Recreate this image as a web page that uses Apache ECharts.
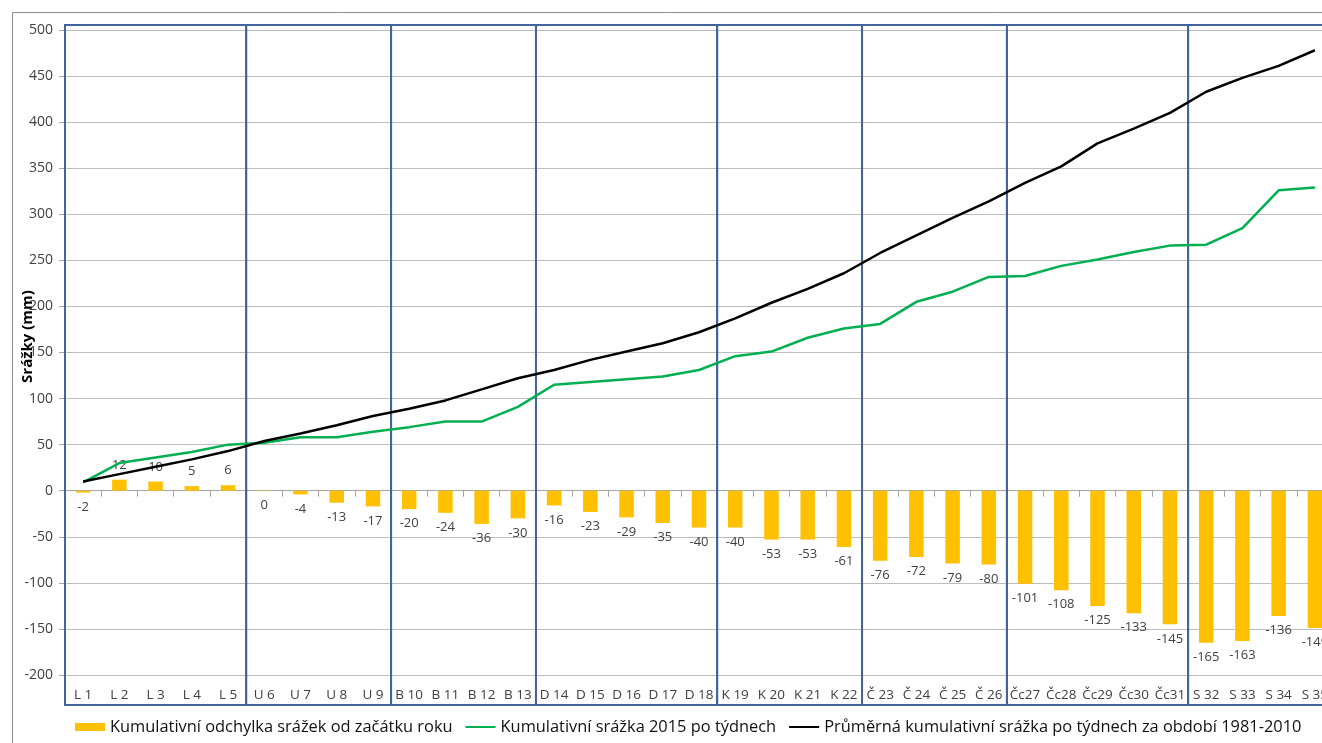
<!DOCTYPE html>
<html>
<head>
<meta charset="utf-8">
<script src="https://cdn.jsdelivr.net/npm/echarts@6/dist/echarts.min.js"></script>
<style>
html,body{margin:0;padding:0;background:#fff;}
#main{width:1322px;height:743px;}
</style>
</head>
<body>
<div id="main"></div>
<script>
const categories = ['L 1','L 2','L 3','L 4','L 5','U 6','U 7','U 8','U 9','B 10','B 11','B 12','B 13','D 14','D 15','D 16','D 17','D 18','K 19','K 20','K 21','K 22','Č 23','Č 24','Č 25','Č 26','Čc27','Čc28','Čc29','Čc30','Čc31','S 32','S 33','S 34','S 35'];
const deviation = [-2,12,10,5,6,-0.4,-4,-13,-17,-20,-24,-36,-30,-16,-23,-29,-35,-40,-40,-53,-53,-61,-76,-72,-79,-80,-101,-108,-125,-133,-145,-165,-163,-136,-149];
const precip2015 = [9,30,36,42,50,52,58,58,64,69,75,75,91,115,118,121,124,131,146,151,166,176,181,205,216,232,233,244,251,259,266,267,285,326,329];
const normal8110 = [10,18,26,34,43,54,62,71,81,89,98,110,122,131,142,151,160,172,187,204,219,236,258,277,296,314,334,352,377,393,410,433,448,461,478];
const monthGroups = [[0,4],[5,8],[9,12],[13,17],[18,21],[22,25],[26,30],[31,34]];
const seriesNames = ['Kumulativní odchylka srážek od začátku roku','Kumulativní srážka 2015 po týdnech','Průměrná kumulativní srážka po týdnech za období 1981-2010'];
const yTicks = {min:-200, max:500, interval:50};

const FONT = 'Open Sans';
const chart = echarts.init(document.getElementById('main'), null, {renderer:'canvas'});
const option = {
  animation:false,
  backgroundColor:'#fff',
  textStyle:{fontFamily:FONT},
  grid:{left:65, right:-11, top:30, bottom:68, containLabel:false, outerBoundsMode:'none'},
  legend:{
    left:70, top:714, itemWidth:30, itemHeight:8, itemGap:12,
    textStyle:{fontFamily:FONT, fontSize:16.4, color:'#111'},
    data:[
      {name:seriesNames[0], icon:'rect'},
      {name:seriesNames[1], itemStyle:{opacity:0}},
      {name:seriesNames[2], itemStyle:{opacity:0}}
    ]
  },
  xAxis:[{
    type:'category', data:categories, position:'bottom',
    axisLine:{show:false, onZero:false}, axisTick:{show:false},
    axisLabel:{fontFamily:FONT, fontSize:13.5, color:'#404040', margin:13, interval:0},
    splitLine:{show:false}
  },{
    type:'category', data:categories, position:'top',
    axisLine:{show:true, onZero:true, lineStyle:{color:'#a6a6a6', width:1}},
    axisTick:{show:true, inside:true, length:6, lineStyle:{color:'#a6a6a6'}},
    axisLabel:{show:false}, splitLine:{show:false}
  }],
  yAxis:{
    type:'value', min:yTicks.min, max:yTicks.max, interval:yTicks.interval,
    name:'Srážky (mm)', nameLocation:'middle', nameRotate:90, nameGap:30, nameMoveOverlap:false,
    nameTextStyle:{fontFamily:FONT, fontSize:15, fontWeight:'bold', color:'#000', padding:[0,0,0,32]},
    axisLine:{show:true, lineStyle:{color:'#a6a6a6'}},
    axisTick:{show:true, length:6, lineStyle:{color:'#a6a6a6'}},
    axisLabel:{fontFamily:FONT, fontSize:14, color:'#404040', margin:12},
    splitLine:{show:true, lineStyle:{color:'#bdbdbd', width:1}}
  },
  series:[{
    name:seriesNames[0], type:'bar', data:deviation, barWidth:14.5,
    itemStyle:{color:'#ffc000'},
    label:{show:true, position:'outside', distance:8, fontFamily:FONT, fontSize:13, color:'#404040',
      formatter:p=>String(Math.round(p.value)).replace('-0','0')},
    z:3
  },{
    name:seriesNames[1], type:'line', data:precip2015, symbol:'none', showSymbol:false,
    lineStyle:{color:'#00b050', width:2.5}, itemStyle:{color:'#00b050'}, z:4
  },{
    name:seriesNames[2], type:'line', data:normal8110, symbol:'none', showSymbol:false,
    lineStyle:{color:'#000000', width:2.5}, itemStyle:{color:'#000000'}, z:5
  }]
};
chart.setOption(option);

// month boxes positioned through the library's own scales
const p0 = chart.convertToPixel({xAxisIndex:0}, 0);
const p1 = chart.convertToPixel({xAxisIndex:0}, 1);
const half = (p1 - p0)/2;
const yTop = chart.convertToPixel({yAxisIndex:0}, yTicks.max) - 5;
const yBot = chart.convertToPixel({yAxisIndex:0}, yTicks.min) + 30;
const graphics = [{
  type:'rect', z:0, silent:true,
  shape:{x:12.5, y:12.5, width:1400, height:800},
  style:{fill:null, stroke:'#8c8c8c', lineWidth:1}
}];
monthGroups.forEach(g=>{
  const xl = chart.convertToPixel({xAxisIndex:0}, g[0]) - half;
  const xr = chart.convertToPixel({xAxisIndex:0}, g[1]) + half;
  graphics.push({
    type:'rect', z:1, silent:true,
    shape:{x:xl, y:yTop, width:xr-xl, height:yBot-yTop},
    style:{fill:null, stroke:'#41659b', lineWidth:2}
  });
});
chart.setOption({graphic:graphics});
</script>
</body>
</html>
